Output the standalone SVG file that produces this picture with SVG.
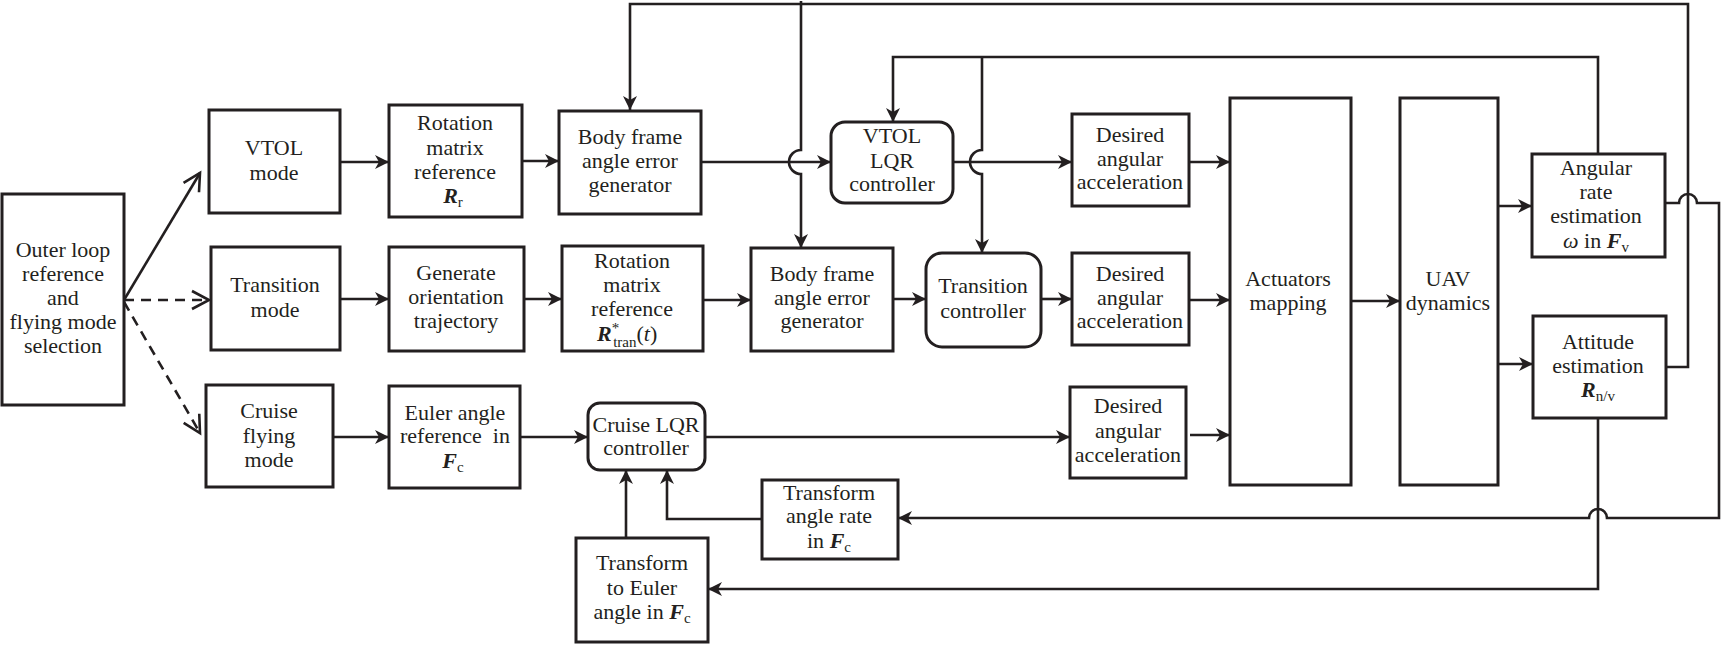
<svg xmlns="http://www.w3.org/2000/svg" width="1722" height="647" viewBox="0 0 1722 647">
<style>
.b{fill:#fff;stroke:#231f20;stroke-width:3}
.t{font-family:"Liberation Serif","Times New Roman",serif;font-size:22px;fill:#231f20;text-anchor:middle}
.c{fill:none;stroke:#231f20;stroke-width:2.6}
.a{marker-end:url(#ah)}
.d{stroke-dasharray:10 7}
.o{marker-end:url(#oh)}
.bi{font-weight:bold;font-style:italic}
.it{font-style:italic}
.s{font-size:15px}
</style>
<defs>
<marker id="ah" markerUnits="userSpaceOnUse" markerWidth="16" markerHeight="16" refX="14" refY="7" orient="auto" overflow="visible">
<path d="M0,0 L14,7 L0,14 L4,7 z" fill="#231f20"/>
</marker>
<marker id="oh" markerUnits="userSpaceOnUse" markerWidth="20" markerHeight="20" refX="17" refY="9" orient="auto" overflow="visible">
<path d="M0,0 L17,9 L0,18" fill="none" stroke="#231f20" stroke-width="2.6"/>
</marker>
</defs>

<g id="connectors">
<path class="c o" d="M124,300 L200,173"/>
<path class="c o d" d="M124,300 L209,300"/>
<path class="c o d" d="M124,302 L200,433"/>
<path class="c a" d="M340,162 H389"/>
<path class="c a" d="M522,161 H559"/>
<path class="c a" d="M701,162 H831"/>
<path class="c a" d="M953,162 H1072"/>
<path class="c a" d="M1189,162 H1230"/>
<path class="c a" d="M340,299 H389"/>
<path class="c a" d="M524,299 H562"/>
<path class="c a" d="M703,300 H751"/>
<path class="c a" d="M893,299 H926"/>
<path class="c a" d="M1041,299 H1072"/>
<path class="c a" d="M1189,300 H1230"/>
<path class="c a" d="M333,437 H389"/>
<path class="c a" d="M520,437 H588"/>
<path class="c a" d="M705,437 H1070"/>
<path class="c a" d="M1190,435 H1230"/>
<path class="c a" d="M1351,301 H1400"/>
<path class="c a" d="M1498,206 H1532"/>
<path class="c a" d="M1498,364 H1533"/>
<path class="c a" d="M1666,367 H1688 V4 H630 V110"/>
<path class="c a" d="M801,1 V150 A12,12 0 0 0 801,174 V248"/>
<path class="c a" d="M1598,154 V57 H893 V122"/>
<path class="c a" d="M982,57 V150 A12,12 0 0 0 982,174 V253"/>
<path class="c a" d="M1665,203 H1679 A9,9 0 0 1 1697,203 H1719 V518 H1607 A9,9 0 0 0 1589,518 H898"/>
<path class="c a" d="M1598,418 V589 H708"/>
<path class="c a" d="M762,519 H667 V470"/>
<path class="c a" d="M626,538 V470"/>
</g>

<g id="outer">
<rect class="b" x="2" y="194" width="122" height="211"/>
<text class="t"><tspan x="63" y="257">Outer loop</tspan><tspan x="63" y="281">reference</tspan><tspan x="63" y="305">and</tspan><tspan x="63" y="329">flying mode</tspan><tspan x="63" y="353">selection</tspan></text>
</g>
<g id="vtolmode">
<rect class="b" x="209" y="110" width="131" height="103"/>
<text class="t"><tspan x="274" y="155">VTOL</tspan><tspan x="274" y="180">mode</tspan></text>
</g>
<g id="transmode">
<rect class="b" x="211" y="247" width="129" height="103"/>
<text class="t"><tspan x="275" y="292">Transition</tspan><tspan x="275" y="317">mode</tspan></text>
</g>
<g id="cruisemode">
<rect class="b" x="206" y="385" width="127" height="102"/>
<text class="t"><tspan x="269" y="418">Cruise</tspan><tspan x="269" y="443">flying</tspan><tspan x="269" y="467">mode</tspan></text>
</g>
<g id="rotref">
<rect class="b" x="389" y="105" width="133" height="112"/>
<text class="t"><tspan x="455" y="130">Rotation</tspan><tspan x="455" y="155">matrix</tspan><tspan x="455" y="179">reference</tspan><tspan x="453" y="203"><tspan class="bi">R</tspan><tspan class="s" dy="4">r</tspan></tspan></text>
</g>
<g id="body1">
<rect class="b" x="559" y="111" width="142" height="103"/>
<text class="t"><tspan x="630" y="144">Body frame</tspan><tspan x="630" y="168">angle error</tspan><tspan x="630" y="192">generator</tspan></text>
</g>
<g id="genorient">
<rect class="b" x="389" y="247" width="135" height="104"/>
<text class="t"><tspan x="456" y="280">Generate</tspan><tspan x="456" y="304">orientation</tspan><tspan x="456" y="328">trajectory</tspan></text>
</g>
<g id="rottran">
<rect class="b" x="562" y="246" width="141" height="105"/>
<text class="t"><tspan x="632" y="268">Rotation</tspan><tspan x="632" y="292">matrix</tspan><tspan x="632" y="316">reference</tspan></text>
<text class="t" style="text-anchor:start" x="597" y="341"><tspan class="bi">R</tspan><tspan class="s" dy="-8">*</tspan><tspan class="s" dx="-6" dy="14">tran</tspan><tspan dy="-6">(</tspan><tspan class="it">t</tspan><tspan>)</tspan></text>
</g>
<g id="body2">
<rect class="b" x="751" y="248" width="142" height="103"/>
<text class="t"><tspan x="822" y="281">Body frame</tspan><tspan x="822" y="305">angle error</tspan><tspan x="822" y="328">generator</tspan></text>
</g>
<g id="vtollqr">
<rect class="b" x="831" y="122" width="122" height="81" rx="14"/>
<text class="t"><tspan x="892" y="143">VTOL</tspan><tspan x="892" y="168">LQR</tspan><tspan x="892" y="191">controller</tspan></text>
</g>
<g id="transctrl">
<rect class="b" x="926" y="253" width="115" height="94" rx="16"/>
<text class="t"><tspan x="983" y="293">Transition</tspan><tspan x="983" y="318">controller</tspan></text>
</g>
<g id="des1">
<rect class="b" x="1072" y="114" width="117" height="92"/>
<text class="t"><tspan x="1130" y="142">Desired</tspan><tspan x="1130" y="166">angular</tspan><tspan x="1130" y="189">acceleration</tspan></text>
</g>
<g id="des2">
<rect class="b" x="1072" y="253" width="117" height="92"/>
<text class="t"><tspan x="1130" y="281">Desired</tspan><tspan x="1130" y="305">angular</tspan><tspan x="1130" y="328">acceleration</tspan></text>
</g>
<g id="des3">
<rect class="b" x="1070" y="387" width="116" height="91"/>
<text class="t"><tspan x="1128" y="413">Desired</tspan><tspan x="1128" y="438">angular</tspan><tspan x="1128" y="462">acceleration</tspan></text>
</g>
<g id="actuators">
<rect class="b" x="1230" y="98" width="121" height="387"/>
<text class="t"><tspan x="1288" y="286">Actuators</tspan><tspan x="1288" y="310">mapping</tspan></text>
</g>
<g id="uav">
<rect class="b" x="1400" y="98" width="98" height="387"/>
<text class="t"><tspan x="1448" y="286">UAV</tspan><tspan x="1448" y="310">dynamics</tspan></text>
</g>
<g id="angrate">
<rect class="b" x="1532" y="154" width="133" height="103"/>
<text class="t"><tspan x="1596" y="175">Angular</tspan><tspan x="1596" y="199">rate</tspan><tspan x="1596" y="223">estimation</tspan><tspan x="1596" y="248"><tspan class="it">ω</tspan> in <tspan class="bi">F</tspan><tspan class="s" dy="4">v</tspan></tspan></text>
</g>
<g id="attitude">
<rect class="b" x="1533" y="316" width="133" height="102"/>
<text class="t"><tspan x="1598" y="349">Attitude</tspan><tspan x="1598" y="373">estimation</tspan><tspan x="1598" y="397"><tspan class="bi">R</tspan><tspan class="s" dy="4">n/v</tspan></tspan></text>
</g>
<g id="eulerref">
<rect class="b" x="389" y="386" width="131" height="102"/>
<text class="t"><tspan x="455" y="420">Euler angle</tspan><tspan x="455" y="443" style="white-space:pre">reference  in</tspan><tspan x="453" y="468"><tspan class="bi">F</tspan><tspan class="s" dy="4">c</tspan></tspan></text>
</g>
<g id="cruiselqr">
<rect class="b" x="588" y="403" width="117" height="67" rx="12"/>
<text class="t"><tspan x="646" y="432">Cruise LQR</tspan><tspan x="646" y="455">controller</tspan></text>
</g>
<g id="tfrate">
<rect class="b" x="762" y="480" width="136" height="79"/>
<text class="t"><tspan x="829" y="500">Transform</tspan><tspan x="829" y="523">angle rate</tspan><tspan x="829" y="548">in <tspan class="bi">F</tspan><tspan class="s" dy="4">c</tspan></tspan></text>
</g>
<g id="tfeuler">
<rect class="b" x="576" y="538" width="132" height="104"/>
<text class="t"><tspan x="642" y="570">Transform</tspan><tspan x="642" y="595">to Euler</tspan><tspan x="642" y="619">angle in <tspan class="bi">F</tspan><tspan class="s" dy="4">c</tspan></tspan></text>
</g>
</svg>
